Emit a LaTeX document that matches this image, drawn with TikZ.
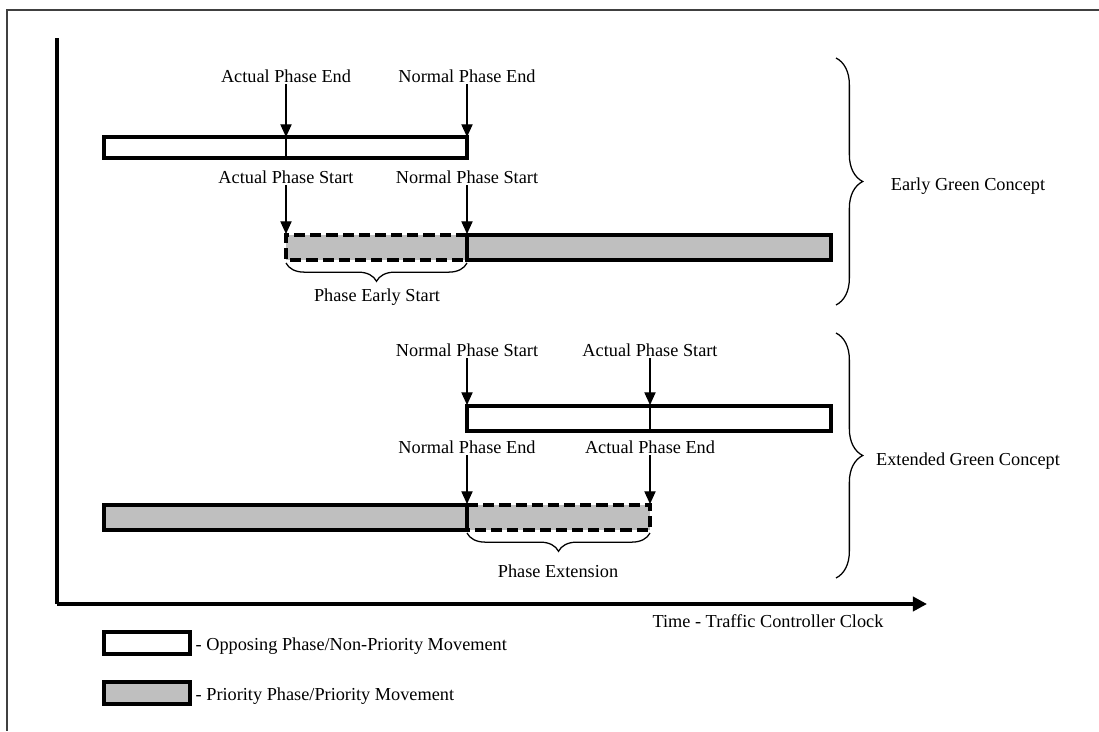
\documentclass[tikz,border=0pt]{standalone}
\usepackage{fontspec}
\setmainfont{Liberation Serif}
\usetikzlibrary{arrows.meta, decorations.pathreplacing}

\begin{document}
\begin{tikzpicture}[x=0.025cm, y=-0.025cm,
  lbl/.style={font=\fontsize{13}{15}\selectfont, inner sep=1pt},
  bar/.style={draw, line width=2.2pt},
  opp/.style={bar, fill=white},
  pri/.style={bar, fill=gray!50},
  ext/.style={fill=gray!50},
  dsh/.style={line width=2.2pt, dash pattern=on 8pt off 3.5pt},
  arr/.style={-{Triangle[length=9pt,width=8pt]}, line width=0.8pt},
  divl/.style={line width=1.4pt},
  brc/.style={decorate, decoration={brace, amplitude=#1}, line width=0.9pt},
  axis/.style={line width=2.5pt}
]
\useasboundingbox (0,0) rectangle (1099,731);

%% Frame
\draw[line width=1.2pt, gray!50!black] (1099,10) -- (7,10) -- (7,731);

%% Axes
\coordinate (orig) at (57,604);
\coordinate (ytop) at (57,38);
\coordinate (xend) at (927,604);
\draw[axis] (ytop) -- (orig);
\draw[axis, -{Triangle[length=10pt,width=10pt]}] (orig) -- (xend);
\node[lbl] (tlbl) at (768,621) {Time - Traffic Controller Clock};

%% Early green: opposing phase
\draw[opp] (104,137) rectangle (467,158);
\draw[divl] (286,137) -- (286,158);
\node[lbl] (ape) at (286,76) {Actual Phase End};
\node[lbl] (npe) at (467,76) {Normal Phase End};
\coordinate (ape-t) at (286,137);
\coordinate (npe-t) at (467,137);
\draw[arr] (ape.south) -- (ape-t);
\draw[arr] (npe.south) -- (npe-t);

%% Early green: priority phase
\fill[ext] (286,235) rectangle (467,260);
\draw[dsh] (467,235) -- (286,235) -- (286,260) -- (467,260);
\draw[pri] (467,235) rectangle (831,260);
\node[lbl] (aps) at (286,177) {Actual Phase Start};
\node[lbl] (nps) at (467,177) {Normal Phase Start};
\coordinate (aps-t) at (286,234);
\coordinate (nps-t) at (467,234);
\draw[arr] (aps.south) -- (aps-t);
\draw[arr] (nps.south) -- (nps-t);
\draw[brc=13pt] (467,263) -- (286,263);
\node[lbl] (pes) at (377,297) {Phase Early Start};

%% Extended green: opposing phase
\draw[opp] (467,406) rectangle (831,431);
\draw[divl] (650,406) -- (650,431);
\node[lbl] (nps2) at (467,350) {Normal Phase Start};
\node[lbl] (aps2) at (650,350) {Actual Phase Start};
\coordinate (nps2-t) at (467,405);
\coordinate (aps2-t) at (650,405);
\draw[arr] (nps2.south) -- (nps2-t);
\draw[arr] (aps2.south) -- (aps2-t);

%% Extended green: priority phase
\fill[ext] (467,505) rectangle (650,530);
\draw[dsh] (467,505) -- (650,505) -- (650,530) -- (467,530);
\draw[pri] (104,505) rectangle (467,530);
\node[lbl] (npe2) at (467,447) {Normal Phase End};
\node[lbl] (ape2) at (650,447) {Actual Phase End};
\coordinate (npe2-t) at (467,504);
\coordinate (ape2-t) at (650,504);
\draw[arr] (npe2.south) -- (npe2-t);
\draw[arr] (ape2.south) -- (ape2-t);
\draw[brc=13pt] (650,533) -- (467,533);
\node[lbl] (pext) at (558,571) {Phase Extension};

%% Concept braces
\draw[brc=19pt] (836,58) -- (836,305);
\node[lbl] (egc) at (968,186) {Early Green Concept};
\draw[brc=19pt] (836,333) -- (836,578);
\node[lbl] (xgc) at (968,461) {Extended Green Concept};

%% Legend
\draw[opp] (104,632) rectangle (190,654);
\node[lbl, anchor=west] (lg1) at (194,646) {- Opposing Phase/Non-Priority Movement};
\draw[pri] (104,682) rectangle (190,704);
\node[lbl, anchor=west] (lg2) at (194,696) {- Priority Phase/Priority Movement};

\end{tikzpicture}
\end{document}
